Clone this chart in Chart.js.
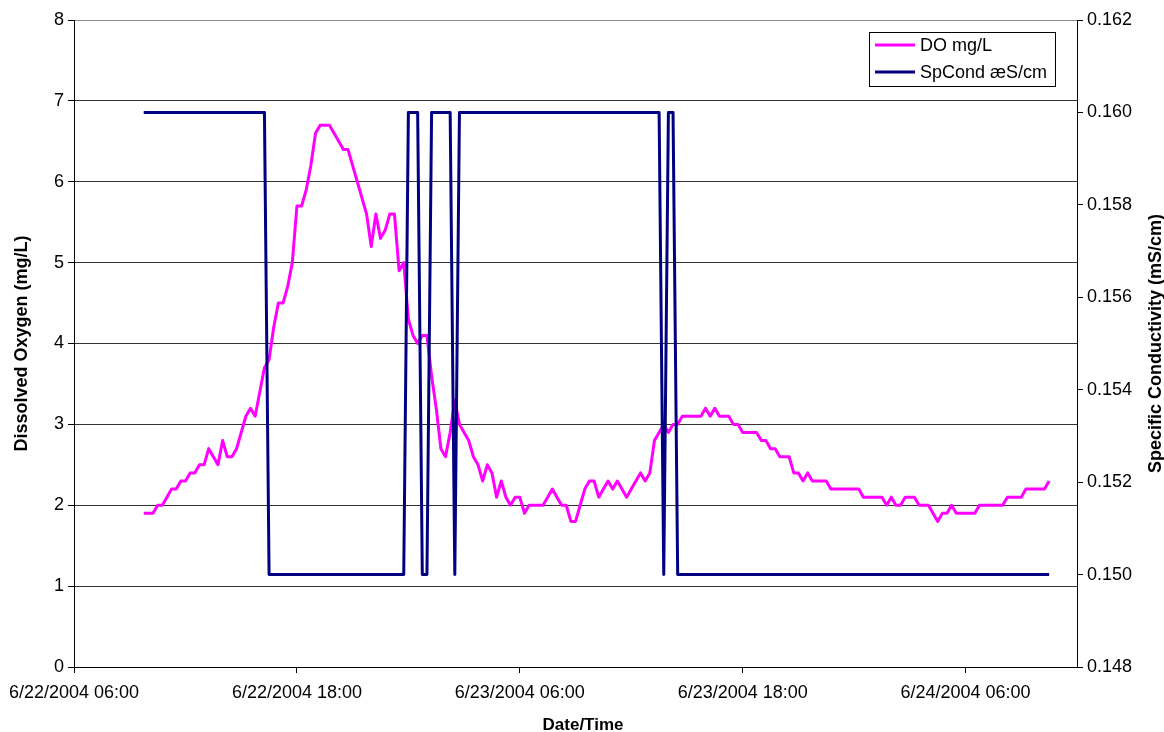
<!DOCTYPE html>
<html>
<head>
<meta charset="utf-8">
<script src="https://cdn.jsdelivr.net/npm/chart.js@4.4.1/dist/chart.umd.min.js"></script>
<style>
  html, body { margin: 0; padding: 0; background: #ffffff; }
  #wrap { width: 1164px; height: 732px; }
</style>
</head>
<body>
<div id="wrap"><canvas id="chart" width="1164" height="732"></canvas></div>
<script>
// Sonde record: one reading every 15 minutes, first reading 6/22/2004 09:45.
// Time is measured in hours after 6/22/2004 06:00.
const firstReadingHour = 3.75;
const readingStepHours = 0.25;

// Dissolved oxygen, mg/L
const doValues = [
  1.9, 1.9, 1.9, 2.0, 2.0, 2.1, 2.2, 2.2, 2.3, 2.3,
  2.4, 2.4, 2.5, 2.5, 2.7, 2.6, 2.5, 2.8, 2.6, 2.6,
  2.7, 2.9, 3.1, 3.2, 3.1, 3.4, 3.7, 3.8, 4.2, 4.5,
  4.5, 4.7, 5.0, 5.7, 5.7, 5.9, 6.2, 6.6, 6.7, 6.7,
  6.7, 6.6, 6.5, 6.4, 6.4, 6.2, 6.0, 5.8, 5.6, 5.2,
  5.6, 5.3, 5.4, 5.6, 5.6, 4.9, 5.0, 4.3, 4.1, 4.0,
  4.1, 4.1, 3.6, 3.2, 2.7, 2.6, 2.9, 3.3, 3.0, 2.9,
  2.8, 2.6, 2.5, 2.3, 2.5, 2.4, 2.1, 2.3, 2.1, 2.0,
  2.1, 2.1, 1.9, 2.0, 2.0, 2.0, 2.0, 2.1, 2.2, 2.1,
  2.0, 2.0, 1.8, 1.8, 2.0, 2.2, 2.3, 2.3, 2.1, 2.2,
  2.3, 2.2, 2.3, 2.2, 2.1, 2.2, 2.3, 2.4, 2.3, 2.4,
  2.8, 2.9, 3.0, 2.9, 3.0, 3.0, 3.1, 3.1, 3.1, 3.1,
  3.1, 3.2, 3.1, 3.2, 3.1, 3.1, 3.1, 3.0, 3.0, 2.9,
  2.9, 2.9, 2.9, 2.8, 2.8, 2.7, 2.7, 2.6, 2.6, 2.6,
  2.4, 2.4, 2.3, 2.4, 2.3, 2.3, 2.3, 2.3, 2.2, 2.2,
  2.2, 2.2, 2.2, 2.2, 2.2, 2.1, 2.1, 2.1, 2.1, 2.1,
  2.0, 2.1, 2.0, 2.0, 2.1, 2.1, 2.1, 2.0, 2.0, 2.0,
  1.9, 1.8, 1.9, 1.9, 2.0, 1.9, 1.9, 1.9, 1.9, 1.9,
  2.0, 2.0, 2.0, 2.0, 2.0, 2.0, 2.1, 2.1, 2.1, 2.1,
  2.2, 2.2, 2.2, 2.2, 2.2, 2.3
];

// Specific conductance, mS/cm
const spCondValues = [
  0.16, 0.16, 0.16, 0.16, 0.16, 0.16, 0.16, 0.16, 0.16, 0.16,
  0.16, 0.16, 0.16, 0.16, 0.16, 0.16, 0.16, 0.16, 0.16, 0.16,
  0.16, 0.16, 0.16, 0.16, 0.16, 0.16, 0.16, 0.15, 0.15, 0.15,
  0.15, 0.15, 0.15, 0.15, 0.15, 0.15, 0.15, 0.15, 0.15, 0.15,
  0.15, 0.15, 0.15, 0.15, 0.15, 0.15, 0.15, 0.15, 0.15, 0.15,
  0.15, 0.15, 0.15, 0.15, 0.15, 0.15, 0.15, 0.16, 0.16, 0.16,
  0.15, 0.15, 0.16, 0.16, 0.16, 0.16, 0.16, 0.15, 0.16, 0.16,
  0.16, 0.16, 0.16, 0.16, 0.16, 0.16, 0.16, 0.16, 0.16, 0.16,
  0.16, 0.16, 0.16, 0.16, 0.16, 0.16, 0.16, 0.16, 0.16, 0.16,
  0.16, 0.16, 0.16, 0.16, 0.16, 0.16, 0.16, 0.16, 0.16, 0.16,
  0.16, 0.16, 0.16, 0.16, 0.16, 0.16, 0.16, 0.16, 0.16, 0.16,
  0.16, 0.16, 0.15, 0.16, 0.16, 0.15, 0.15, 0.15, 0.15, 0.15,
  0.15, 0.15, 0.15, 0.15, 0.15, 0.15, 0.15, 0.15, 0.15, 0.15,
  0.15, 0.15, 0.15, 0.15, 0.15, 0.15, 0.15, 0.15, 0.15, 0.15,
  0.15, 0.15, 0.15, 0.15, 0.15, 0.15, 0.15, 0.15, 0.15, 0.15,
  0.15, 0.15, 0.15, 0.15, 0.15, 0.15, 0.15, 0.15, 0.15, 0.15,
  0.15, 0.15, 0.15, 0.15, 0.15, 0.15, 0.15, 0.15, 0.15, 0.15,
  0.15, 0.15, 0.15, 0.15, 0.15, 0.15, 0.15, 0.15, 0.15, 0.15,
  0.15, 0.15, 0.15, 0.15, 0.15, 0.15, 0.15, 0.15, 0.15, 0.15,
  0.15, 0.15, 0.15, 0.15, 0.15, 0.15
];

// Date/time axis ticks
const timeTickHours = [0, 12, 24, 36, 48];
const timeTickLabels = ['6/22/2004 06:00', '6/22/2004 18:00', '6/23/2004 06:00', '6/23/2004 18:00', '6/24/2004 06:00'];
const timeAxisMaxHours = 54;

// Left axis (DO) and right axis (conductivity) ticks
const doTickValues = [0, 1, 2, 3, 4, 5, 6, 7, 8];
const condTickValues = [0.148, 0.150, 0.152, 0.154, 0.156, 0.158, 0.160, 0.162];

const seriesLabels = ['DO mg/L', 'SpCond \u00e6S/cm'];
const seriesColors = ['#ff00ff', '#000080'];
const axisTitles = { x: 'Date/Time', left: 'Dissolved Oxygen (mg/L)', right: 'Specific Conductivity (mS/cm)' };

const readingHours = doValues.map((_, i) => firstReadingHour + i * readingStepHours);
const doPoints = doValues.map((v, i) => ({ x: readingHours[i], y: v }));
const condPoints = spCondValues.map((v, i) => ({ x: readingHours[i], y: v }));

const FONT = 'Arial, "Liberation Sans", sans-serif';

// Time-axis title, right-hand axis title (reads bottom to top) and the boxed legend
const extrasPlugin = {
  id: 'extras',
  afterDraw(chart) {
    const ctx = chart.ctx;
    const area = chart.chartArea;

    ctx.save();
    ctx.fillStyle = '#000';
    ctx.font = 'bold 17px ' + FONT;
    ctx.textAlign = 'center';
    ctx.textBaseline = 'middle';
    ctx.fillText(axisTitles.x, 583, 725);
    ctx.restore();

    ctx.save();
    ctx.fillStyle = '#000';
    ctx.font = 'bold 18px ' + FONT;
    ctx.textAlign = 'center';
    ctx.textBaseline = 'middle';
    ctx.translate(1156, (area.top + area.bottom) / 2);
    ctx.rotate(-Math.PI / 2);
    ctx.fillText(axisTitles.right, 0, 0);
    ctx.restore();

    const box = { left: 869, top: 32, width: 186, height: 54 };
    ctx.save();
    ctx.fillStyle = '#fff';
    ctx.fillRect(box.left, box.top, box.width, box.height);
    ctx.strokeStyle = '#000';
    ctx.lineWidth = 1;
    ctx.strokeRect(box.left + 0.5, box.top + 0.5, box.width, box.height);
    ctx.font = '18px ' + FONT;
    ctx.textAlign = 'left';
    ctx.textBaseline = 'middle';
    chart.data.datasets.forEach((ds, i) => {
      const y = box.top + 13 + i * 27;
      ctx.strokeStyle = ds.borderColor;
      ctx.lineWidth = 3;
      ctx.beginPath();
      ctx.moveTo(875, y);
      ctx.lineTo(915, y);
      ctx.stroke();
      ctx.fillStyle = '#000';
      ctx.fillText(ds.label, 920, y + 1);
    });
    ctx.restore();
  }
};

new Chart(document.getElementById('chart'), {
  type: 'line',
  data: {
    datasets: [
      {
        label: seriesLabels[0], data: doPoints, yAxisID: 'y',
        borderColor: seriesColors[0], backgroundColor: seriesColors[0],
        borderWidth: 3, order: 1
      },
      {
        label: seriesLabels[1], data: condPoints, yAxisID: 'y2',
        borderColor: seriesColors[1], backgroundColor: seriesColors[1],
        borderWidth: 3, order: 0
      }
    ]
  },
  options: {
    responsive: false,
    animation: false,
    devicePixelRatio: 1,
    parsing: false,
    normalized: true,
    layout: { padding: { top: 20, left: 0, right: 0, bottom: 0 } },
    elements: {
      point: { radius: 0, hoverRadius: 0 },
      line: { tension: 0, borderJoinStyle: 'round', borderCapStyle: 'butt' }
    },
    plugins: {
      legend: { display: false },
      tooltip: { enabled: false }
    },
    scales: {
      x: {
        type: 'linear',
        position: 'bottom',
        min: 0,
        max: timeAxisMaxHours,
        afterBuildTicks(scale) { scale.ticks = timeTickHours.map(v => ({ value: v })); },
        afterFit(scale) { scale.height = 65; },
        ticks: {
          autoSkip: false, maxRotation: 0, minRotation: 0, padding: 9,
          color: '#000', font: { family: FONT, size: 18 },
          callback(value) {
            const k = timeTickHours.indexOf(value);
            return k >= 0 ? timeTickLabels[k] : '';
          }
        },
        grid: { drawOnChartArea: false, drawTicks: true, tickLength: 6, tickColor: '#000', color: '#000' },
        border: { display: true, color: '#000', width: 1 },
        title: { display: false }
      },
      y: {
        position: 'left',
        min: 0,
        max: 8,
        afterBuildTicks(scale) { scale.ticks = doTickValues.map(v => ({ value: v })); },
        afterFit(scale) { scale.width = 73; },
        ticks: { padding: 4, color: '#000', font: { family: FONT, size: 18 } },
        grid: {
          drawOnChartArea: true, tickLength: 6, tickColor: '#000', lineWidth: 1,
          color: ctx => (ctx.tick && ctx.tick.value === 8 ? '#8c8c8c' : '#333333')
        },
        border: { display: true, color: '#000', width: 1 },
        title: {
          display: true, text: axisTitles.left, color: '#000',
          font: { family: FONT, size: 18, weight: 'bold' }, padding: { top: 10, bottom: 0 }
        }
      },
      y2: {
        position: 'right',
        min: 0.148,
        max: 0.162,
        afterBuildTicks(scale) { scale.ticks = condTickValues.map(v => ({ value: v })); },
        afterFit(scale) { scale.width = 87; },
        ticks: {
          padding: 4, color: '#000', font: { family: FONT, size: 18 },
          callback: v => Number(v).toFixed(3)
        },
        grid: { drawOnChartArea: false, tickLength: 6, tickColor: '#000', color: '#000' },
        border: { display: true, color: '#000', width: 1 }
      }
    }
  },
  plugins: [extrasPlugin]
});
</script>
</body>
</html>
